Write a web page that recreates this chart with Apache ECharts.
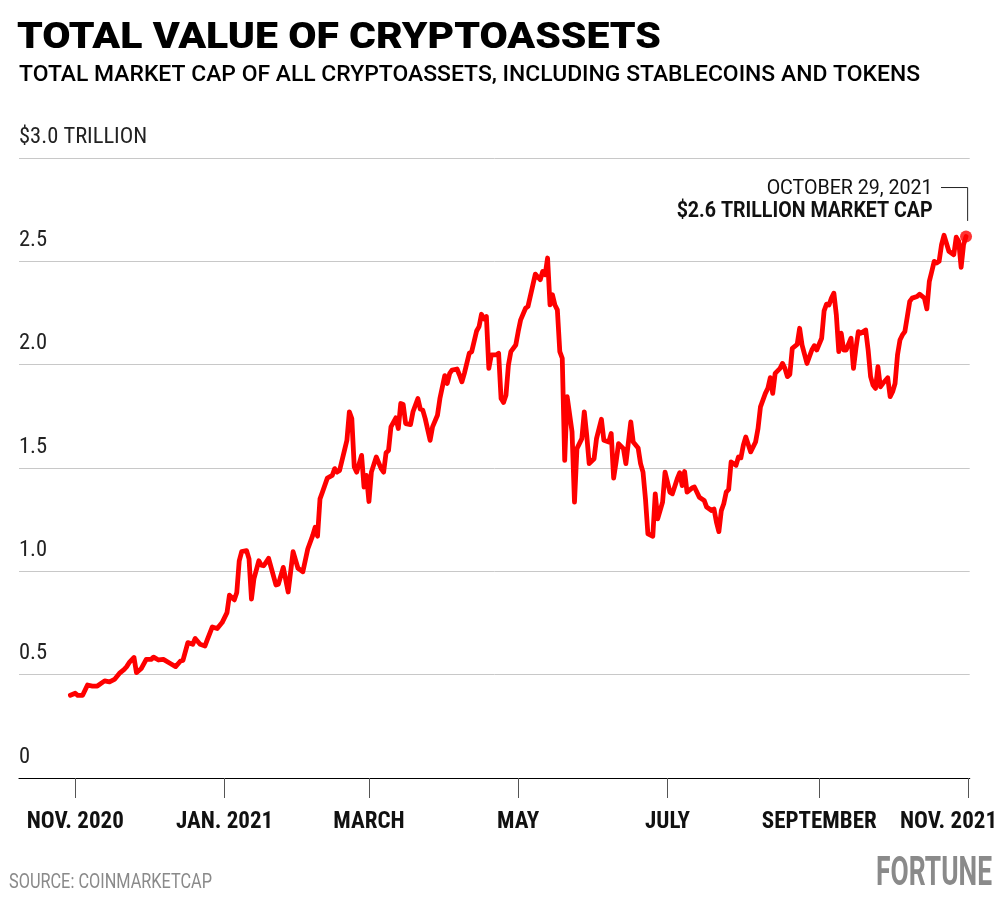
<!DOCTYPE html>
<html>
<head>
<meta charset="utf-8">
<script src="https://cdn.jsdelivr.net/npm/echarts@6/dist/echarts.min.js"></script>
<style>
html,body{margin:0;padding:0;background:#fff;}
#chart{width:1001px;height:911px;}
</style>
</head>
<body>
<div id="chart"></div>
<script>
// ---- data ----
const dates = [
'2020-10-30','2020-11-01','2020-11-02','2020-11-04','2020-11-06','2020-11-08','2020-11-10','2020-11-13','2020-11-15','2020-11-17',
'2020-11-19','2020-11-21','2020-11-22','2020-11-23','2020-11-25','2020-11-26','2020-11-28','2020-11-30','2020-12-02','2020-12-03',
'2020-12-05','2020-12-07','2020-12-10','2020-12-12','2020-12-14','2020-12-15','2020-12-17','2020-12-19','2020-12-20','2020-12-22',
'2020-12-24','2020-12-25','2020-12-27','2020-12-29','2020-12-31','2021-01-02','2021-01-03','2021-01-05','2021-01-06','2021-01-07',
'2021-01-08','2021-01-10','2021-01-11','2021-01-12','2021-01-13','2021-01-15','2021-01-16','2021-01-17','2021-01-19','2021-01-22',
'2021-01-23','2021-01-25','2021-01-27','2021-01-29','2021-01-31','2021-02-02','2021-02-04','2021-02-06','2021-02-07','2021-02-08',
'2021-02-09','2021-02-10','2021-02-12','2021-02-14','2021-02-15','2021-02-16','2021-02-17','2021-02-19','2021-02-20','2021-02-21',
'2021-02-22','2021-02-23','2021-02-24','2021-02-26','2021-02-27','2021-02-28','2021-03-01','2021-03-02','2021-03-04','2021-03-06',
'2021-03-07','2021-03-08','2021-03-09','2021-03-10','2021-03-12','2021-03-13','2021-03-14','2021-03-15','2021-03-16','2021-03-18',
'2021-03-19','2021-03-21','2021-03-22','2021-03-23','2021-03-24','2021-03-26','2021-03-27','2021-03-29','2021-03-30','2021-04-01',
'2021-04-02','2021-04-03','2021-04-04','2021-04-06','2021-04-07','2021-04-08','2021-04-09','2021-04-11','2021-04-12','2021-04-14',
'2021-04-15','2021-04-16','2021-04-17','2021-04-18','2021-04-19','2021-04-20','2021-04-22','2021-04-23','2021-04-24','2021-04-25',
'2021-04-26','2021-04-27','2021-04-28','2021-04-30','2021-05-01','2021-05-02','2021-05-04','2021-05-05','2021-05-07','2021-05-08',
'2021-05-10','2021-05-11','2021-05-12','2021-05-13','2021-05-14','2021-05-15','2021-05-16','2021-05-17','2021-05-18','2021-05-19',
'2021-05-20','2021-05-21','2021-05-23','2021-05-24','2021-05-25','2021-05-27','2021-05-28','2021-05-29','2021-05-30','2021-06-01',
'2021-06-02','2021-06-04','2021-06-05','2021-06-07','2021-06-08','2021-06-09','2021-06-10','2021-06-11','2021-06-13','2021-06-14',
'2021-06-16','2021-06-17','2021-06-19','2021-06-20','2021-06-21','2021-06-22','2021-06-23','2021-06-25','2021-06-26','2021-06-27',
'2021-06-29','2021-06-30','2021-07-01','2021-07-02','2021-07-03','2021-07-05','2021-07-06','2021-07-07','2021-07-08','2021-07-09',
'2021-07-11','2021-07-12','2021-07-14','2021-07-16','2021-07-17','2021-07-19','2021-07-20','2021-07-21','2021-07-22','2021-07-23',
'2021-07-24','2021-07-25','2021-07-26','2021-07-27','2021-07-29','2021-07-30','2021-07-31','2021-08-01','2021-08-02','2021-08-04',
'2021-08-06','2021-08-07','2021-08-08','2021-08-10','2021-08-11','2021-08-12','2021-08-13','2021-08-14','2021-08-16','2021-08-17',
'2021-08-18','2021-08-19','2021-08-20','2021-08-21','2021-08-23','2021-08-24','2021-08-25','2021-08-27','2021-08-29','2021-08-30',
'2021-08-31','2021-09-02','2021-09-03','2021-09-04','2021-09-05','2021-09-06','2021-09-07','2021-09-08','2021-09-09','2021-09-10',
'2021-09-11','2021-09-12','2021-09-14','2021-09-15','2021-09-16','2021-09-17','2021-09-18','2021-09-20','2021-09-21','2021-09-22',
'2021-09-23','2021-09-24','2021-09-25','2021-09-26','2021-09-27','2021-09-29','2021-09-30','2021-10-01','2021-10-02','2021-10-03',
'2021-10-04','2021-10-05','2021-10-06','2021-10-07','2021-10-08','2021-10-09','2021-10-11','2021-10-12','2021-10-14','2021-10-15',
'2021-10-16','2021-10-17','2021-10-18','2021-10-19','2021-10-20','2021-10-21','2021-10-22','2021-10-24','2021-10-26','2021-10-27',
'2021-10-28','2021-10-29','2021-10-30','2021-10-31'
];
const marketCapTrillions = [
0.40,0.41,0.40,0.40,0.45,0.445,0.445,0.47,0.465,0.477,
0.506,0.526,0.539,0.558,0.583,0.51,0.53,0.574,0.574,0.585,
0.571,0.574,0.553,0.539,0.566,0.569,0.655,0.647,0.675,0.647,
0.639,0.671,0.731,0.723,0.752,0.80,0.885,0.862,0.898,1.051,
1.095,1.10,1.06,0.866,0.963,1.051,1.03,1.027,1.063,0.934,
0.938,1.019,0.90,1.095,1.015,0.998,1.108,1.173,1.213,1.17,
1.351,1.383,1.451,1.464,1.497,1.48,1.488,1.585,1.634,1.772,
1.739,1.505,1.48,1.561,1.408,1.464,1.338,1.48,1.553,1.497,
1.48,1.574,1.585,1.699,1.743,1.691,1.812,1.807,1.715,1.71,
1.772,1.836,1.785,1.78,1.739,1.634,1.699,1.755,1.836,1.947,
1.909,1.958,1.974,1.979,1.95,1.917,1.958,2.055,2.063,2.163,
2.184,2.244,2.221,2.233,1.982,2.047,2.047,2.055,1.836,1.817,
1.852,1.998,2.063,2.095,2.16,2.217,2.273,2.282,2.386,2.438,
2.411,2.451,2.435,2.516,2.289,2.338,2.289,2.265,2.063,2.031,
1.537,1.845,1.675,1.335,1.594,1.642,1.772,1.658,1.521,1.545,
1.642,1.736,1.634,1.626,1.667,1.451,1.529,1.618,1.594,1.521,
1.723,1.626,1.597,1.521,1.48,1.351,1.181,1.17,1.375,1.254,
1.335,1.48,1.432,1.383,1.375,1.448,1.477,1.415,1.483,1.383,
1.403,1.408,1.359,1.343,1.311,1.294,1.302,1.238,1.192,1.294,
1.327,1.383,1.396,1.529,1.513,1.553,1.549,1.61,1.65,1.578,
1.626,1.691,1.796,1.861,1.885,1.937,1.861,1.958,1.982,2.006,
1.982,1.942,1.953,2.079,2.098,2.176,2.095,2.006,2.071,2.092,
2.071,2.128,2.26,2.293,2.289,2.322,2.346,2.241,2.063,2.152,
2.071,2.071,2.128,1.982,2.079,2.16,2.152,2.168,2.071,1.942,
1.901,1.885,1.99,1.893,1.909,1.937,1.845,1.869,1.909,2.047,
2.119,2.144,2.16,2.233,2.306,2.322,2.33,2.341,2.322,2.27,
2.403,2.451,2.5,2.492,2.5,2.581,2.626,2.549,2.532,2.617,
2.597,2.471,2.581,2.62
];
const xTickDates = ['2020-11-01','2021-01-01','2021-03-01','2021-05-01','2021-07-01','2021-09-01','2021-11-01'];
const xTickLabels = ['NOV. 2020','JAN. 2021','MARCH','MAY','JULY','SEPTEMBER','NOV. 2021'];
const yTopLabel = '$3.0 TRILLION';
const titleText = 'TOTAL VALUE OF CRYPTOASSETS';
const subtitleText = 'TOTAL MARKET CAP OF ALL CRYPTOASSETS, INCLUDING STABLECOINS AND TOKENS';
const sourceText = 'SOURCE: COINMARKETCAP';
const brandText = 'FORTUNE';
const annotationLine1 = 'OCTOBER 29, 2021';
const annotationLine2 = '$2.6 TRILLION MARKET CAP';

// ---- helpers ----
function ts(s){ const p = s.split('-').map(Number); return Date.UTC(p[0], p[1]-1, p[2]); }
const measureCtx = document.createElement('canvas').getContext('2d');
function textW(text, font){ measureCtx.font = font; return measureCtx.measureText(text).width; }
function fitScale(text, font, target){ return target / textW(text, font); }

const COND = "'Roboto Condensed','Liberation Sans Narrow','Arial Narrow',Roboto,sans-serif";
const seriesData = dates.map((d,i)=>[ts(d), marketCapTrillions[i]]);
const tickTs = xTickDates.map(ts);
const xMin = ts('2020-10-09');
const xMax = ts('2021-11-01') + 12*3600*1000;

const chart = echarts.init(document.getElementById('chart'), null, {renderer:'canvas'});

const fTitle = "900 37.5px Roboto";
const fSub = "500 22px Roboto";
const fSource = "400 21px Roboto";
const fBrand = "700 40px Roboto";

function tickIndex(v){
  for (let i=0;i<tickTs.length;i++){ if (Math.abs(tickTs[i]-v) < 3600*1000) return i; }
  return -1;
}

const option = {
  animation:false,
  backgroundColor:'#ffffff',
  grid:{left:19, right:31.3, top:158, bottom:133, containLabel:false, outerBoundsMode:'none'},
  xAxis:{
    type:'value', min:xMin, max:xMax, scale:true,
    axisLine:{show:true, onZero:false, lineStyle:{color:'#000', width:1.2}},
    axisTick:{show:true, customValues:tickTs, length:20, lineStyle:{color:'#555', width:1}},
    axisLabel:{
      customValues:tickTs, margin:33, color:'#111', hideOverlap:false,
      fontFamily:COND, fontWeight:'bold', fontSize:23, lineHeight:23,
      formatter:function(v){
        const i = tickIndex(v);
        const t = i>=0 ? xTickLabels[i] : '';
        return i === xTickLabels.length-1 ? '{last|'+t+'}' : t;
      },
      rich:{ last:{ fontFamily:COND, fontWeight:'bold', fontSize:23, lineHeight:23, color:'#111', padding:[0,40,0,0] } }
    },
    splitLine:{show:false}
  },
  yAxis:{
    type:'value', min:0, max:3, interval:0.5,
    axisLine:{show:false}, axisTick:{show:false},
    axisLabel:{
      inside:true, margin:0, verticalAlign:'bottom', align:'left',
      padding:[0,0,10,0], color:'#222', fontFamily:COND, fontSize:22.5, lineHeight:22,
      formatter:function(v){ if (v===3) return yTopLabel; if (v===0) return '0'; return v.toFixed(1); }
    },
    splitLine:{show:true, lineStyle:{color:'#c8c8c8', width:1}}
  },
  series:[
    { type:'line', data:seriesData, showSymbol:false, symbol:'none', smooth:false,
      lineStyle:{color:'#fe0000', width:4.8, join:'round', cap:'round'}, z:3 },
    { type:'scatter', data:[seriesData[seriesData.length-1]], symbol:'circle', symbolSize:12,
      itemStyle:{color:'#fe0000'}, z:4 }
  ],
  graphic:[
    { type:'text', x:17, y:39.1, scaleX:fitScale(titleText,fTitle,644),
      style:{text:titleText, font:fTitle, fill:'#000', align:'left', verticalAlign:'middle'} },
    { type:'text', x:19, y:75.4, scaleX:fitScale(subtitleText,fSub,901),
      style:{text:subtitleText, font:fSub, fill:'#000', align:'left', verticalAlign:'middle'} },
    { type:'text', x:9, y:882.4, scaleX:fitScale(sourceText,fSource,203),
      style:{text:sourceText, font:fSource, fill:'#8a8a8a', align:'left', verticalAlign:'middle'} },
    { type:'text', x:876, y:875.1, scaleX:fitScale(brandText,fBrand,116),
      style:{text:brandText, font:fBrand, fill:'#8a8a8a', align:'left', verticalAlign:'middle'} }
  ]
};
chart.setOption(option);

// annotation anchored to the last data point
const last = seriesData[seriesData.length-1];
const p = chart.convertToPixel({gridIndex:0}, last);
const fA1 = "400 21px Roboto";
const fA2 = "700 22.5px Roboto";
chart.setOption({
  graphic: option.graphic.concat([
    { type:'polyline', shape:{points:[[p[0]-25,p[1]-49],[p[0]+1.6,p[1]-49],[p[0]+1.6,p[1]-15.6]]},
      style:{stroke:'#222', lineWidth:1, fill:null} },
    { type:'text', x:p[0]-33.4, y:p[1]-47.7, scaleX:fitScale(annotationLine1,fA1,166),
      style:{text:annotationLine1, font:fA1, fill:'#111', align:'right', verticalAlign:'middle'} },
    { type:'text', x:p[0]-33.4, y:p[1]-25.5, scaleX:fitScale(annotationLine2,fA2,256),
      style:{text:annotationLine2, font:fA2, fill:'#111', align:'right', verticalAlign:'middle'} }
  ])
});
</script>
</body>
</html>
